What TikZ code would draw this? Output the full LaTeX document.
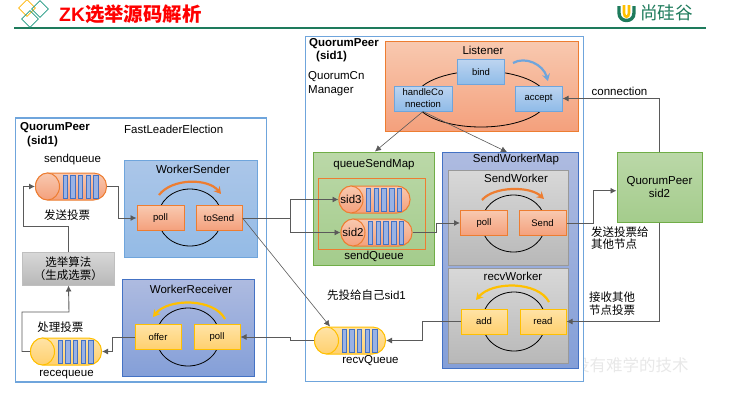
\documentclass[tikz,border=0pt]{standalone}
\usepackage{fontspec}
\setmainfont{Liberation Sans}
\newfontfamily\cjk{Noto Sans CJK SC}
\usetikzlibrary{shapes.geometric,arrows.meta}
\definecolor{panelblue}{HTML}{6FA5DC}
\definecolor{linegray}{HTML}{5A5A5A}
\definecolor{orangeline}{HTML}{ED7D31}
\definecolor{orangetop}{HTML}{F8C9B0}
\definecolor{orangebot}{HTML}{F4A07C}
\definecolor{yellowline}{HTML}{FFC000}
\definecolor{yellowtop}{HTML}{FFE3A6}
\definecolor{yellowbot}{HTML}{FFD06E}
\definecolor{logogreen}{HTML}{1E7B5C}
\definecolor{skytop}{HTML}{ABC6E8}
\definecolor{skybot}{HTML}{94BBE6}
\definecolor{skyline}{HTML}{6FA5DC}
\definecolor{indigotop}{HTML}{AEBBE0}
\definecolor{indigobot}{HTML}{849FD8}
\definecolor{indigoline}{HTML}{4472C4}
\definecolor{greentop}{HTML}{BBD8A8}
\definecolor{greenbot}{HTML}{A4CC8C}
\definecolor{greenline}{HTML}{70AD47}
\definecolor{graytop}{HTML}{D8D8D8}
\definecolor{graybot}{HTML}{B8B8B8}
\definecolor{barblue}{HTML}{9AB2E4}
\definecolor{btntop}{HTML}{BDD4F0}
\definecolor{btnbot}{HTML}{8FBBE8}
\begin{document}
\begin{tikzpicture}[
   x=1pt,y=-1pt,
   font=\fontsize{11.5}{13.5}\selectfont,
   panel/.style={draw=panelblue,line width=1.8pt,fill=white,inner sep=0pt},
   group/.style={inner sep=0pt,line width=1pt},
   skygroup/.style={group,draw=skyline,top color=skytop,bottom color=skybot},
   indigogroup/.style={group,draw=indigoline,top color=indigotop,bottom color=indigobot},
   greengroup/.style={group,draw=greenline,top color=greentop,bottom color=greenbot},
   graygroup/.style={group,draw=gray!80,top color=graytop,bottom color=graybot},
   ring/.style={draw=black,ellipse,line width=.8pt,inner sep=0pt},
   orangebox/.style={draw=orangeline,line width=1pt,top color=orangetop,bottom color=orangebot,inner sep=0pt,minimum width=47pt,minimum height=25pt,font=\fontsize{9.5}{12}\selectfont},
   yellowbox/.style={draw=yellowline,line width=1pt,top color=yellowtop,bottom color=yellowbot,inner sep=0pt,minimum width=46pt,minimum height=25pt,font=\fontsize{9.5}{12}\selectfont},
   bluebox/.style={draw=skyline,line width=1pt,top color=btntop,bottom color=btnbot,inner sep=0pt,minimum width=47pt,minimum height=25pt,font=\fontsize{9.5}{12}\selectfont,align=center},
   queue/.style={draw=#1,line width=1pt,rounded corners=13pt,inner sep=0pt,minimum width=71pt,minimum height=27pt},
   queuehead/.style={draw=#1,line width=1pt,ellipse,inner sep=0pt,minimum width=24pt,minimum height=27pt},
   bar/.style={draw=indigoline,line width=.5pt,fill=barblue,inner sep=0pt,minimum width=4.4pt,minimum height=23pt},
   to/.style={-{Latex[length=6pt,width=6pt]},draw=linegray,line width=.9pt},
   thin to/.style={-{Latex[length=6pt,width=6pt]},draw=linegray,line width=.6pt},
   spin/.style={-{Stealth[length=7pt,width=8pt]},line width=2.2pt,draw=#1},
   lbl/.style={inner sep=0pt,align=center}]
\useasboundingbox (0,0) rectangle (734,405);
% header
\node[lbl,text=black!9,font=\cjk\fontsize{16.5}{18}\selectfont] (motto) at (606,365) {让天下没有难学的技术};
\node[lbl,anchor=west,text=red,font=\bfseries\fontsize{19.4}{21}\selectfont] (title) at (59,14) {ZK{\cjk\bfseries 选举源码解析}};
\draw[logogreen,line width=1.6pt] (14,28) -- (706,28);
\node[diamond,draw=yellowline!80!orange,thick,inner sep=0pt,minimum size=17pt] (logoa) at (27,8) {};
\node[diamond,draw=logogreen!80!cyan,thick,inner sep=0pt,minimum size=17pt] (logob) at (40,9) {};
\node[diamond,draw=logogreen!80!cyan,thick,inner sep=0pt,minimum size=17pt] (logoc) at (30,19) {};
\draw[logogreen,line width=3.4pt] (619,6) -- (619,13) .. controls (619,23) and (634,23) .. (634,13) -- (634,6);
\draw[yellowline,line width=2.6pt] (624,5) -- (624,13) .. controls (624,18) and (629,18) .. (629,13) -- (629,5);
\node[lbl,anchor=west,text=logogreen,font=\cjk\fontsize{17.6}{19}\selectfont] (brand) at (640,13) {尚硅谷};
% left panel
\node[panel,minimum width=251pt,minimum height=264pt] (leftpeer) at (141,250) {};
\node[lbl,anchor=west,font=\bfseries\fontsize{11.5}{13}\selectfont] (leftname) at (20,128) {QuorumPeer};
\node[lbl,anchor=west,font=\bfseries\fontsize{11.5}{13}\selectfont] (leftsid) at (27,142) {(sid1)};
\node[lbl,anchor=west] (fle) at (124,129) {FastLeaderElection};
\node[lbl] (sendqlabel) at (72.5,160) {sendqueue};
\node[skygroup,minimum width=133pt,minimum height=97pt] (workersender) at (190.5,208.5) {};
\node[lbl] (sendername) at (193,169) {WorkerSender};
\node[ring,minimum width=64pt,minimum height=57pt] (senderring) at (190,217.5) {};
\draw[spin=orangeline] (159,195) .. controls (172,178) and (208,178) .. (221,194);
\node[orangebox] (lpoll) at (160.5,218) {poll};
\node[orangebox,minimum width=46pt] (tosend) at (219,218) {toSend};
\node[indigogroup,minimum width=132pt,minimum height=97pt] (workerreceiver) at (188,327.5) {};
\node[lbl] (receivername) at (191,289) {WorkerReceiver};
\node[ring,minimum width=64pt,minimum height=58pt] (receiverring) at (188,337) {};
\draw[spin=yellowline] (225,319) .. controls (214,298) and (168,298) .. (153,317);
\node[yellowbox] (offer) at (158,337) {offer};
\node[yellowbox] (rpoll) at (217,337) {poll};
\node[draw=gray!50,line width=1pt,top color=graytop,bottom color=graybot,lbl,minimum width=92pt,minimum height=33pt] (algo) at (68.5,268.5) {\cjk 选举算法\\\cjk（生成选票）};
\node[lbl,font=\cjk\fontsize{11.5}{13.5}\selectfont] (sendvote) at (67,215) {发送投票};
\node[lbl,font=\cjk\fontsize{11.5}{13.5}\selectfont] (handlevote) at (60.5,327) {处理投票};
\node[lbl] (receqlabel) at (66.5,375) {recequeue};
% right panel
\node[panel,minimum width=278pt,minimum height=345pt] (rightpeer) at (444.5,209) {};
\node[lbl,anchor=west,font=\bfseries\fontsize{11.5}{13}\selectfont] (rightname) at (309,44) {QuorumPeer};
\node[lbl,anchor=west,font=\bfseries\fontsize{11.5}{13}\selectfont] (rightsid) at (316,57) {(sid1)};
\node[lbl,anchor=west] (cnxa) at (308,77) {QuorumCn};
\node[lbl,anchor=west] (cnxb) at (308,91) {Manager};
\node[group,draw=orangeline,top color=orangetop,bottom color=orangebot,minimum width=193pt,minimum height=90pt] (listener) at (481.5,86) {};
\node[lbl] (listenername) at (483,50) {Listener};
\node[ring,minimum width=132pt,minimum height=56pt] (listenerring) at (481,99) {};
\draw[spin=skyline] (513,63) .. controls (525,56) and (543,64) .. (548,81);
\node[bluebox] (bind) at (481,72) {bind};
\node[bluebox,minimum width=58pt] (handle) at (423,98.5) {handleCo\\nnection};
\node[bluebox] (accept) at (538.5,98.5) {accept};
\node[greengroup,minimum width=121pt,minimum height=113pt] (sendmap) at (374,208.5) {};
\node[lbl] (sendmapname) at (374,165) {queueSendMap};
\node[draw=orangeline,line width=1.2pt,inner sep=0pt,minimum width=107pt,minimum height=71pt] (sendqueuebox) at (372,214) {};
\node[lbl] (sendqueuename) at (374,256) {sendQueue};
\node[indigogroup,minimum width=136pt,minimum height=216pt] (workermap) at (510,260) {};
\node[lbl] (workermapname) at (516,160) {SendWorkerMap};
\node[graygroup,minimum width=120pt,minimum height=95pt] (sendworker) at (508,217.5) {};
\node[lbl] (sendworkername) at (516,178) {SendWorker};
\node[ring,minimum width=64pt,minimum height=57pt] (sendring) at (513.5,223.5) {};
\draw[spin=orangeline] (482,200) .. controls (494,186) and (530,186) .. (544,199);
\node[orangebox] (wpoll) at (484,223) {poll};
\node[orangebox] (send) at (542.5,223) {Send};
\node[graygroup,minimum width=120pt,minimum height=95pt] (recvworker) at (508,315.5) {};
\node[lbl] (recvworkername) at (513,276) {recvWorker};
\node[ring,minimum width=64pt,minimum height=59pt] (recvring) at (514,321.5) {};
\draw[spin=yellowline] (549,302) .. controls (538,281) and (492,281) .. (476,300);
\node[yellowbox] (add) at (484,321.5) {add};
\node[yellowbox] (read) at (543,321.5) {read};
\node[lbl] (recvqname) at (370.5,361) {recvQueue};
\node[lbl] (selfvote) at (366.5,295) {{\cjk 先投给自己}sid1};
\node[group,draw=greenline,top color=greentop,bottom color=greenbot,minimum width=85pt,minimum height=70pt,align=center] (peertwo) at (659.5,187) {QuorumPeer\\sid2};
\node[lbl] (connlabel) at (619.5,91) {connection};
\node[lbl,anchor=west,font=\cjk\fontsize{11.5}{12.5}\selectfont,align=left] (sendother) at (591,238) {发送投票给\\其他节点};
\node[lbl,anchor=west,font=\cjk\fontsize{11.5}{12.5}\selectfont,align=left] (recvother) at (589,303.5) {接收其他\\节点投票};
% queues
\foreach \qname/\qx/\qy/\qtop/\qbot/\qline in {sendq/71/186.5/orangetop/orangebot/orangeline,
   recvq/350/340.5/yellowtop/yellowbot/yellowline,
   receq/66/351.5/yellowtop/yellowbot/yellowline,
   sidthree/374.5/199.5/orangetop/orangebot/orangeline,
   sidtwo/376.5/232.5/orangetop/orangebot/orangeline}{
  \node[queue=\qline,top color=\qtop,bottom color=\qbot] (\qname) at (\qx,\qy) {};
  \node[queuehead=\qline,top color=\qtop,bottom color=\qbot,anchor=west] (\qname head) at (\qname.west) {};
  \foreach \k in {0,...,4}
    \node[bar,xshift=30pt+7.7pt*\k] (\qname bar\k) at (\qname.west) {};
}
\node[lbl] (sidthreename) at (sidthreehead) {sid3};
\node[lbl] (sidtwoname) at (sidtwohead) {sid2};
% connectors
\draw[to] (sendq.east) -- ++(11,0) |- (lpoll.west);
\draw[to] (algo.north) |- (23,226) |- (sendqhead.west);
\draw[to] (receqhead.west) -- ++(-8,0) |- (69,312) -- (algo.south);
\draw[to] (offer.west) -- ++(-22,0) |- (receq.east);
\draw[to] (recvqhead.west) -- ++(-24,0) |- (rpoll.east);
\draw[to] (tosend.east) -- ++(48,0) |- (sidthreehead.west);
\draw[to] (tosend.east) -- ++(48,0) |- (sidtwohead.west);
\draw[thin to] (tosend.east) -- (recvq.145);
\draw[thin to] (handle.south) -- (375,151.5);
\draw[thin to] (handle.south) -- (507,152);
\draw[to] (sidtwo.east) -- ++(24,0) |- (wpoll.west);
\draw[to] (send.east) -- ++(27,0) |- (peertwo.185);
\draw[to] (peertwo.north) |- (accept.east);
\draw[to] (peertwo.south) |- (read.east);
\draw[to] (add.west) -- ++(-38,0) |- (recvq.east);
\end{tikzpicture}
\end{document}
